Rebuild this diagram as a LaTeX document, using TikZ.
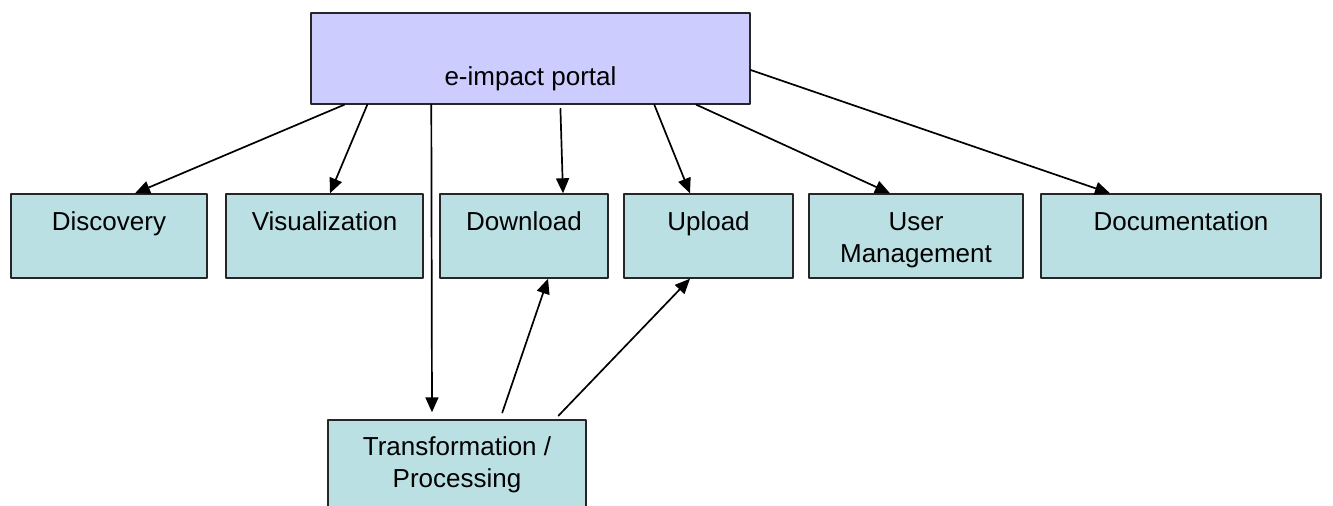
\documentclass[tikz,border=0pt]{standalone}
\usepackage{fontspec}
\setmainfont{Liberation Sans}
\usetikzlibrary{arrows.meta}

\definecolor{portalblue}{HTML}{CCCCFF}
\definecolor{modulecyan}{HTML}{BBE0E3}

\begin{document}
\begin{tikzpicture}[x=0.5pt,y=-0.5pt, line cap=round, line join=round,
  box/.style={draw=black!85, line width=0.7pt, fill=modulecyan, inner sep=0pt,
    align=center, font=\fontsize{13}{16}\selectfont,
    text height=18pt, text depth=24pt, minimum width=#1},
  twolines/.style={text height=34pt, text depth=8pt},
  link/.style={-{Triangle[length=7.5pt,width=6.5pt]}, line width=0.85pt}]

% -----------------------------
% Page frame (pixel units, y downwards)
% -----------------------------
\useasboundingbox (0,0) rectangle (1333,505);

% -----------------------------
% Portal
% -----------------------------
\node[box=219.5pt, fill=portalblue, text height=36pt, text depth=9.5pt]
  (portal) at (530.5,58.5) {e-impact portal};

% -----------------------------
% Modules (one row)
% -----------------------------
\node[box=98pt]   (disc)   at (109,236)    {Discovery};
\node[box=98.5pt] (vis)    at (324.5,236)  {Visualization};
\node[box=84pt]   (down)   at (524,236)    {Download};
\node[box=84.5pt] (up)     at (708.5,236)  {Upload};
\node[box=107pt, twolines] (users) at (916,236) {User\\Management};
\node[box=140pt]  (docs)   at (1181,236)   {Documentation};

% processing box, cut by the lower page edge
\node[box=129pt, text height=33.5pt, text depth=10.5pt]
  (trans) at (457,464) {Transformation /\\Processing};

% -----------------------------
% Links from the portal
% -----------------------------
\draw[link] ([xshift=17pt]portal.south west)   -- ([xshift=13pt]disc.north);
\draw[link] ([xshift=28.5pt]portal.south west) -- ([xshift=2.75pt]vis.north);
\draw[link, shorten >=3.5pt]
            ([xshift=60.5pt]portal.south west) -- ([xshift=-12.5pt]trans.north);
\draw[link, shorten <=2pt]
            ([xshift=125pt]portal.south west)  -- ([xshift=19.5pt]down.north);
\draw[link] ([xshift=172pt]portal.south west)  -- ([xshift=-9.25pt]up.north);
\draw[link] ([xshift=193pt]portal.south west)  -- ([xshift=-13pt]users.north);
\draw[link] ([yshift=-5.75pt]portal.east)      -- ([xshift=-35.5pt]docs.north);

% -----------------------------
% Results back from processing
% -----------------------------
\draw[link, shorten <=3.5pt] ([xshift=21.5pt]trans.north) -- ([xshift=12pt]down.south);
\draw[link, shorten <=2.5pt] ([xshift=49pt]trans.north)   -- ([xshift=-9.25pt]up.south);

\end{tikzpicture}
\end{document}
